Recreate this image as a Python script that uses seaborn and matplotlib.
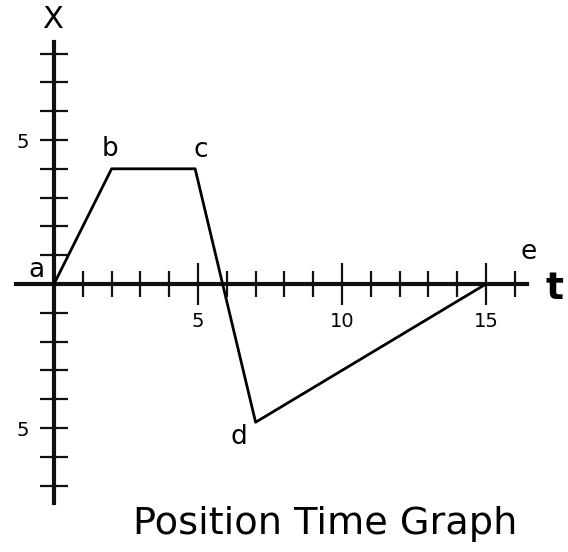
import matplotlib
matplotlib.use("Agg")
import matplotlib.pyplot as plt
import seaborn as sns
import pandas as pd

# data
times = [0, 2, 4.9, 7, 15]
positions = [0, 4, 4, -4.8, 0]
point_names = ["a", "b", "c", "d", "e"]
t_major = [5, 10, 15]
t_major_labels = ["5", "10", "15"]
t_minor = list(range(1, 17))
x_ticks = [-7, -6, -5, -4, -3, -2, -1, 1, 2, 3, 4, 5, 6, 7, 8]
x_tick_labels = ["", "", "5", "", "", "", "", "", "", "", "", "5", "", "", ""]

sns.set_style("white")
plt.rcParams["font.family"] = ["DejaVu Sans"]
plt.rcParams["text.color"] = "black"
plt.rcParams["xtick.color"] = "#111111"
plt.rcParams["ytick.color"] = "#111111"
plt.rcParams["xtick.labelcolor"] = "black"
plt.rcParams["ytick.labelcolor"] = "black"

df = pd.DataFrame({"t": times, "x": positions})

W, H = 568, 552
fig = plt.figure(figsize=(W / 100, H / 100), dpi=100)
ax = fig.add_axes([0, 0, 1, 1])
ax.patch.set_alpha(0)

ppu = 28.8
ox, oy = 54, 284
ax.set_xlim(-ox / ppu, (W - ox) / ppu)
ax.set_ylim(-(H - oy) / ppu, oy / ppu)

sns.lineplot(data=df, x="t", y="x", sort=False, color="black", linewidth=2.0,
             ax=ax, zorder=3)
ax.set_xlabel("")
ax.set_ylabel("")

for s in ["top", "right"]:
    ax.spines[s].set_visible(False)
ax.spines["left"].set_position(("data", 0))
ax.spines["bottom"].set_position(("data", 0))
ax.spines["left"].set_bounds(-(503 - oy) / ppu, (oy - 42) / ppu)
ax.spines["bottom"].set_bounds((16 - ox) / ppu, (527 - ox) / ppu)
for s in ["left", "bottom"]:
    ax.spines[s].set_linewidth(3.0)
    ax.spines[s].set_color("#111111")

ax.set_xticks(t_major, t_major_labels)
ax.set_xticks(t_minor, minor=True)
ax.set_yticks(x_ticks, x_tick_labels)

ax.tick_params(axis="x", which="major", bottom=True, direction="inout", length=30,
               width=1.6, labelsize=14, pad=5)
ax.tick_params(axis="x", which="minor", bottom=True, direction="inout", length=19,
               width=1.6)
ax.tick_params(axis="y", which="major", left=True, direction="inout", length=20,
               width=1.6, labelsize=14, pad=8)
ax.tick_params(axis="y", which="minor", left=False)

def px(xp, yp):
    return (xp - ox) / ppu, (oy - yp) / ppu

label_px = [(36, 270), (110, 149), (201, 150), (239, 437), (529, 252)]
for name, (xp, yp) in zip(point_names, label_px):
    ax.text(*px(xp, yp), name, fontsize=19, ha="center", va="center")

ax.text(*px(554, 289), "t", fontsize=27, fontweight="bold", ha="center", va="center")
ax.text(*px(53, 20), "X", fontsize=22, ha="center", va="center")

fig.text(325 / W, 1 - 524 / H, "Position Time Graph", fontsize=27.5,
         ha="center", va="center")

fig.savefig("out.png", dpi=100, facecolor="white")
